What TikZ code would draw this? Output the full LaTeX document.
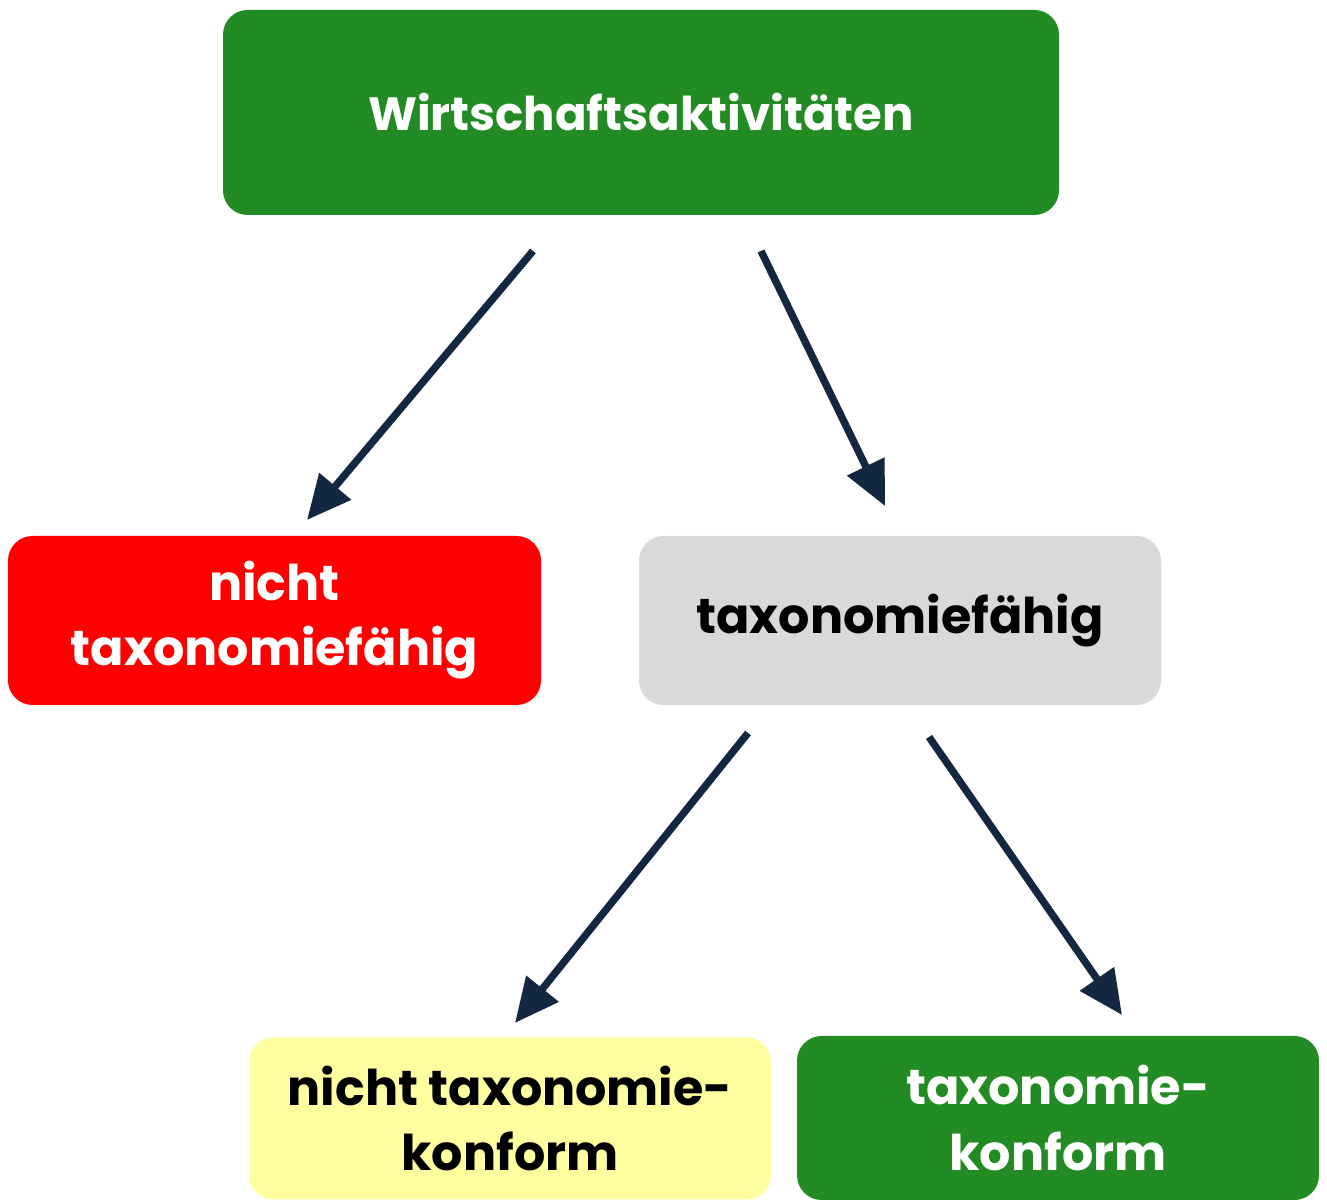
\documentclass[tikz,border=0pt]{standalone}
\usepackage{fontspec}
\setmainfont{Poppins}
\usepackage{tikz}
\usetikzlibrary{arrows.meta}
\definecolor{waldgruen}{RGB}{34,139,35}
\definecolor{signalrot}{RGB}{255,0,0}
\definecolor{hellgrau}{RGB}{217,217,217}
\definecolor{hellgelb}{RGB}{255,255,160}
\definecolor{marine}{RGB}{20,39,64}
\tikzstyle{taxo}=[font=\bfseries\fontsize{14}{18.5}\selectfont]
\tikzstyle{kasten}=[rectangle, rounded corners=7pt, align=center, inner sep=0pt]
\tikzstyle{gruen}=[kasten, fill=waldgruen, text=white]
\tikzstyle{rot}=[kasten, fill=signalrot, text=white]
\tikzstyle{grau}=[kasten, fill=hellgrau, text=black]
\tikzstyle{gelb}=[kasten, fill=hellgelb, text=black]
\tikzstyle{pfeil}=[draw=marine, line width=2.1pt, -{Triangle[length=4.4mm,width=4.0mm]}]
\begin{document}
\begin{tikzpicture}[taxo]
	\useasboundingbox (0,0) rectangle (13.27,12.01);

	%The boxes
	\draw (6.41,10.885) node[gruen, minimum width=8.36cm, minimum height=2.05cm, font=\bfseries\fontsize{13.25}{18}\selectfont] (wirt) {Wirtschaftsaktivitäten};
	\draw (2.745,5.805) node[rot, minimum width=5.33cm, minimum height=1.69cm] (nicht) {nicht\\taxonomiefähig};
	\draw (9.00,5.805) node[grau, minimum width=5.22cm, minimum height=1.69cm] (faehig) {taxonomiefähig};
	\draw (5.10,0.825) node[gelb, minimum width=5.22cm, minimum height=1.62cm] (nkonf) {nicht taxonomie-\\konform};
	\draw (10.58,0.83) node[gruen, minimum width=5.22cm, minimum height=1.64cm] (konf) {taxonomie-\\konform};

	%The arrow ends
	\coordinate (a1s) at (5.33,9.50);
	\coordinate (a1e) at (3.07,6.81);
	\coordinate (a2s) at (7.61,9.50);
	\coordinate (a2e) at (8.85,6.95);
	\coordinate (a3s) at (7.48,4.68);
	\coordinate (a3e) at (5.15,1.78);
	\coordinate (a4s) at (9.29,4.64);
	\coordinate (a4e) at (11.22,1.86);

	%The arrows
	\draw[pfeil] (a1s) -- (a1e);
	\draw[pfeil] (a2s) -- (a2e);
	\draw[pfeil] (a3s) -- (a3e);
	\draw[pfeil] (a4s) -- (a4e);
\end{tikzpicture}
\end{document}
